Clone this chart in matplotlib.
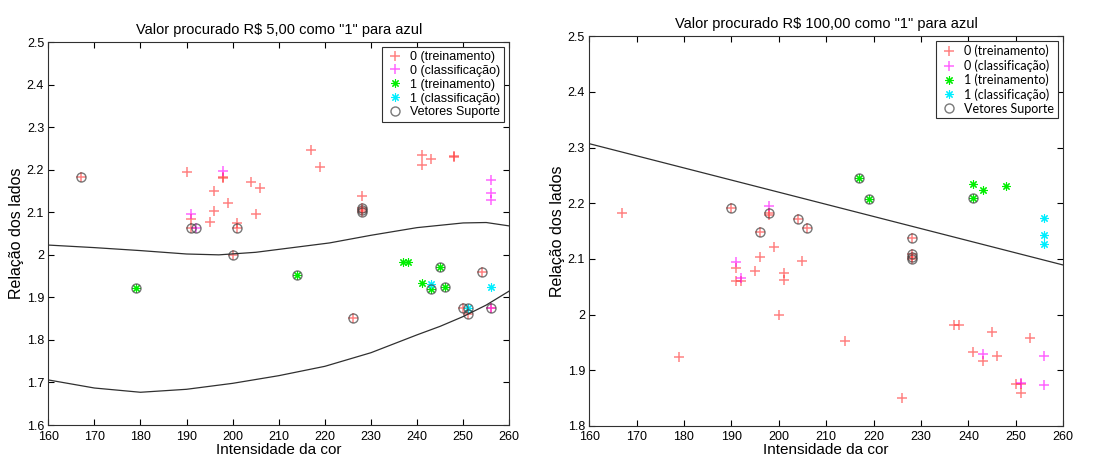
import numpy as np
import matplotlib
matplotlib.use("Agg")
import matplotlib.pyplot as plt

plt.rcParams['font.family'] = ['Liberation Sans', 'DejaVu Sans']

# ---- left chart: R$ 5,00 as "1" ----
l_tr0_x = [167, 190, 191, 191, 195, 196, 196, 198, 198, 199, 200, 201, 201, 204, 205, 206,
           217, 219, 226, 228, 228, 228, 228, 241, 241, 243, 248, 248, 250, 251, 254, 256]
l_tr0_y = [2.184, 2.194, 2.084, 2.063, 2.078, 2.103, 2.150, 2.184, 2.180, 2.123, 2.000, 2.074,
           2.063, 2.172, 2.097, 2.156, 2.247, 2.206, 1.851, 2.139, 2.110, 2.105, 2.100, 2.235,
           2.211, 2.225, 2.232, 2.229, 1.874, 1.860, 1.959, 1.874]
l_cl0_x = [191, 192, 198, 256, 256, 256, 256]
l_cl0_y = [2.095, 2.063, 2.196, 2.176, 2.145, 2.129, 1.874]
l_tr1_x = [179, 214, 237, 238, 241, 243, 245, 246]
l_tr1_y = [1.923, 1.953, 1.983, 1.983, 1.933, 1.919, 1.971, 1.925]
l_cl1_x = [243, 251, 256]
l_cl1_y = [1.932, 1.874, 1.925]
l_sv_x = [167, 191, 192, 201, 200, 228, 228, 228, 179, 214, 226, 243, 245, 246, 254, 250, 251, 251, 256]
l_sv_y = [2.184, 2.063, 2.063, 2.063, 2.000, 2.110, 2.105, 2.100, 1.923, 1.953, 1.851, 1.919,
          1.971, 1.925, 1.959, 1.874, 1.874, 1.860, 1.874]
# decision boundary (two branches)
l_up_x = [160, 170, 180, 190, 197, 205, 213, 221, 230, 240, 250, 255, 260]
l_up_y = [2.023, 2.017, 2.010, 2.002, 2.000, 2.006, 2.017, 2.028, 2.046, 2.064, 2.075, 2.076, 2.068]
l_lo_x = [160, 170, 180, 190, 200, 210, 220, 230, 240, 245, 250, 255, 260]
l_lo_y = [1.706, 1.687, 1.677, 1.684, 1.698, 1.716, 1.738, 1.770, 1.812, 1.832, 1.855, 1.882, 1.915]

# ---- right chart: R$ 100,00 as "1" ----
r_tr0_x = [167, 179, 190, 191, 191, 192, 195, 196, 196, 198, 198, 199, 200, 201, 201, 204, 205,
           206, 214, 226, 228, 228, 228, 228, 237, 238, 241, 243, 245, 246, 250, 251, 251, 253]
r_tr0_y = [2.183, 1.923, 2.192, 2.084, 2.061, 2.061, 2.078, 2.104, 2.149, 2.182, 2.178, 2.122,
           2.000, 2.074, 2.063, 2.171, 2.096, 2.156, 1.952, 1.851, 2.138, 2.108, 2.104, 2.100,
           1.982, 1.981, 1.932, 1.917, 1.969, 1.925, 1.875, 1.875, 1.860, 1.958]
r_cl0_x = [191, 192, 198, 243, 251, 256, 256]
r_cl0_y = [2.094, 2.065, 2.195, 1.930, 1.877, 1.925, 1.874]
r_tr1_x = [217, 219, 241, 243, 248, 241]
r_tr1_y = [2.246, 2.207, 2.234, 2.224, 2.231, 2.210]
r_cl1_x = [256, 256, 256]
r_cl1_y = [2.174, 2.143, 2.126]
r_sv_x = [190, 198, 204, 206, 196, 228, 228, 228, 228, 217, 219, 241]
r_sv_y = [2.192, 2.182, 2.171, 2.156, 2.149, 2.138, 2.108, 2.104, 2.100, 2.246, 2.207, 2.210]
r_line_x = [160, 260]
r_line_y = [2.307, 2.089]

labels = ['0 (treinamento)', '0 (classificação)', '1 (treinamento)',
          '1 (classificação)', 'Vetores Suporte']

star = (8, 2, 0)  # matlab style asterisk


def draw(ax, tr0, cl0, tr1, cl1, sv, curves, ylim, title, legend_font):
    ax.plot(tr0[0], tr0[1], '+', color='#ff3030', alpha=0.6, ms=7, mew=1.1, label=labels[0])
    ax.plot(cl0[0], cl0[1], '+', color='#ff00ff', alpha=0.6, ms=7, mew=1.1, label=labels[1])
    ax.plot(tr1[0], tr1[1], marker=star, ls='none', color='#00ee00', ms=6, mew=0.8, label=labels[2])
    ax.plot(cl1[0], cl1[1], marker=star, ls='none', color='#00eeff', ms=6, mew=0.8, label=labels[3])
    ax.plot(sv[0], sv[1], 'o', mfc='none', mec='#404040', alpha=0.7, ms=6.5, mew=1.0, label=labels[4])
    for cx, cy in curves:
        ax.plot(cx, cy, '-', color='#303030', lw=0.9)
    ax.set_xlim(160, 260)
    ax.set_ylim(*ylim)
    ax.set_xticks(np.arange(160, 261, 10))
    yt = np.round(np.arange(ylim[0], ylim[1] + 0.001, 0.1), 1)
    ax.set_yticks(yt)
    ax.set_yticklabels(['%g' % v for v in yt])
    ax.tick_params(direction='in', top=True, right=True, labelsize=9, length=4)
    ax.tick_params(axis='x', pad=4)
    ax.tick_params(axis='y', pad=3)
    for s in ax.spines.values():
        s.set_color('#303030')
        s.set_linewidth(0.8)
    ax.set_title(title, fontsize=10.5, pad=6)
    ax.set_xlabel('Intensidade da cor', fontsize=11, labelpad=0)
    ax.set_ylabel('Relação dos lados', fontsize=11.5, labelpad=2)
    leg = ax.legend(loc='upper right', prop={'family': legend_font, 'size': 9},
                    fancybox=False, framealpha=1, edgecolor='#303030',
                    borderpad=0.3, labelspacing=0.15, handletextpad=0.4,
                    handlelength=1.6, borderaxespad=0.4)
    leg.get_frame().set_linewidth(0.8)


fig = plt.figure(figsize=(10.95, 4.58), dpi=100)
ax1 = fig.add_axes([0.0441, 0.072, 0.421, 0.836])
ax2 = fig.add_axes([0.538, 0.070, 0.433, 0.851])

draw(ax1, (l_tr0_x, l_tr0_y), (l_cl0_x, l_cl0_y), (l_tr1_x, l_tr1_y), (l_cl1_x, l_cl1_y),
     (l_sv_x, l_sv_y), [(l_up_x, l_up_y), (l_lo_x, l_lo_y)], (1.6, 2.5),
     r'Valor procurado R\$ 5,00 como "1" para azul', 'Liberation Sans')
draw(ax2, (r_tr0_x, r_tr0_y), (r_cl0_x, r_cl0_y), (r_tr1_x, r_tr1_y), (r_cl1_x, r_cl1_y),
     (r_sv_x, r_sv_y), [(r_line_x, r_line_y)], (1.8, 2.5),
     r'Valor procurado R\$ 100,00 como "1" para azul', 'Lato')

fig.savefig('out.png', dpi=100)
